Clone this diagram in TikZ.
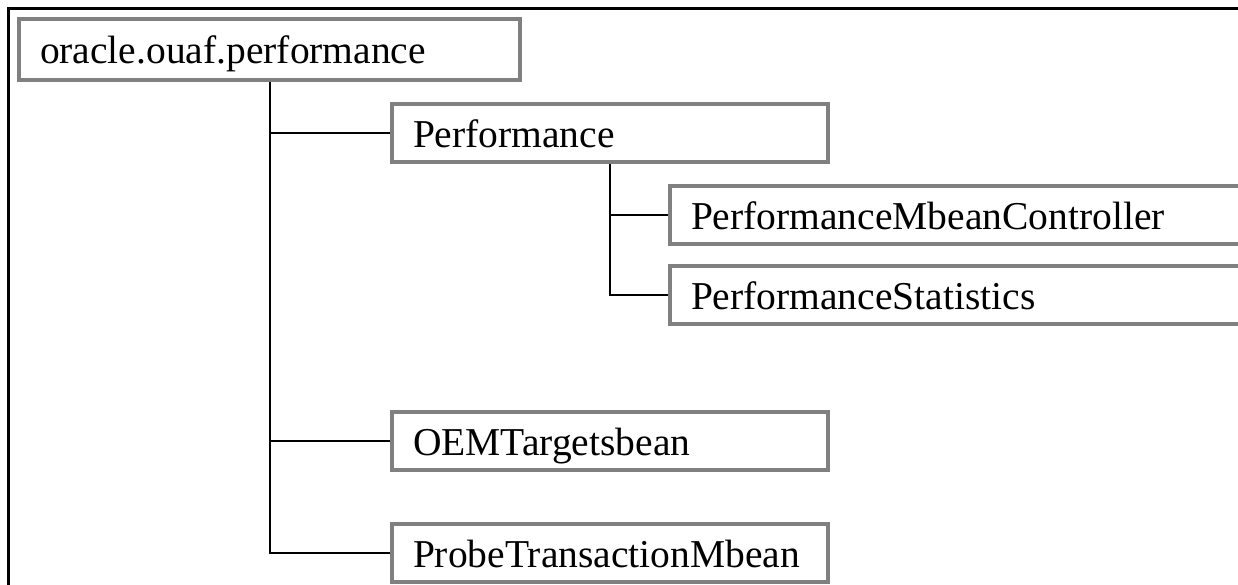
\documentclass[tikz,border=0pt]{standalone}
\usepackage{fontspec}
\setmainfont{Liberation Serif}
\definecolor{boxgray}{RGB}{128,128,128}
\begin{document}
\begin{tikzpicture}[x=1pt,y=-1pt,
  box/.style={draw=boxgray, line width=4pt, fill=white, anchor=north west,
    inner xsep=21pt, inner ysep=0pt, align=left,
    font=\fontsize{39.5}{44}\selectfont, text height=30pt, text depth=2pt},
  conn/.style={draw=black, line width=2pt},
  frameline/.style={draw=black, line width=2.2pt}]
\useasboundingbox (0,0) rectangle (1238,584);
\coordinate (ftl) at (8.5,8.5);
\coordinate (ftr) at (1240,8.5);
\coordinate (fbl) at (8.5,586);
\draw[frameline] (ftr) -- (ftl) -- (fbl);

\node[box, minimum width=501pt, minimum height=61pt, text width=459pt] (root) at (17,17) {oracle.ouaf.performance};
\node[box, minimum width=436pt, minimum height=58pt, text width=394pt] (perf) at (390,102) {Performance};
\node[box, minimum width=572pt, minimum height=58pt, text width=530pt] (pmc) at (668,184) {PerformanceMbeanController};
\node[box, minimum width=572pt, minimum height=58pt, text width=530pt] (ps) at (668,264) {PerformanceStatistics};
\node[box, minimum width=436pt, minimum height=58pt, text width=394pt] (oem) at (390,410) {OEMTargetsbean};
\node[box, minimum width=436pt, minimum height=58pt, text width=394pt] (ptm) at (390,522) {ProbeTransactionMbean};

\draw[conn] (root.south) -- (root.south |- ptm.west) -- (ptm.west);
\draw[conn] (root.south |- perf.west) -- (perf.west);
\draw[conn] (root.south |- oem.west) -- (oem.west);
\draw[conn] (perf.south) -- (perf.south |- ps.west) -- (ps.west);
\draw[conn] (perf.south |- pmc.west) -- (pmc.west);
\end{tikzpicture}
\end{document}
